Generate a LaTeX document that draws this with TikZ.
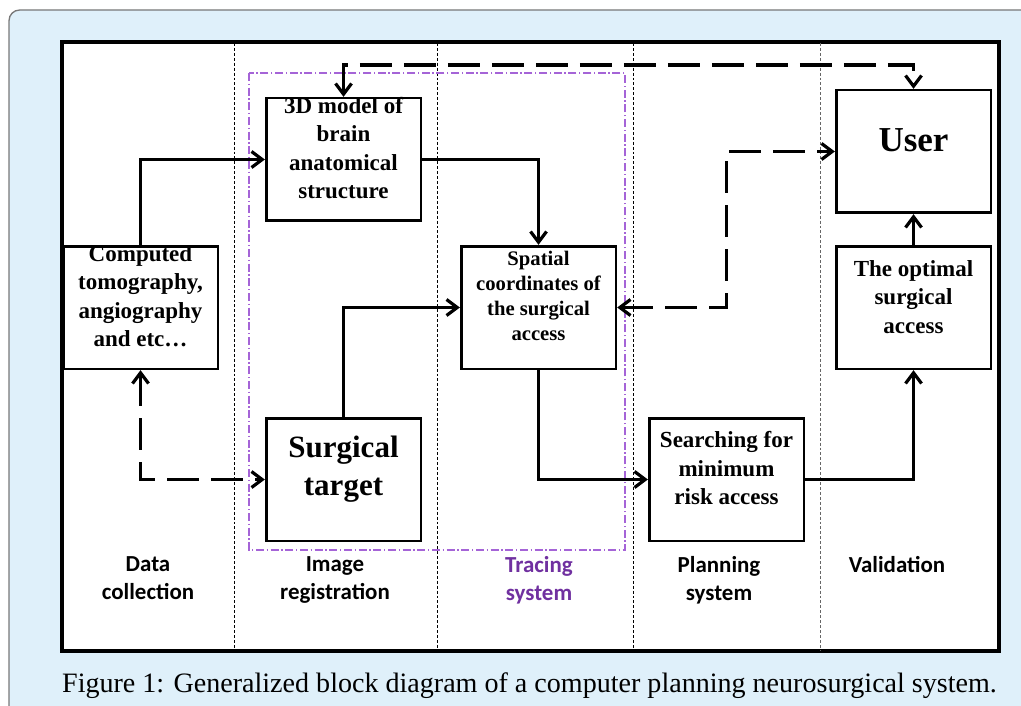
\documentclass[tikz,border=0pt]{standalone}
\usepackage{fontspec}
\usepackage{graphicx}
\setmainfont{Liberation Serif}
\newfontfamily\calibri{Carlito}
\usetikzlibrary{arrows.meta}
\definecolor{panelblue}{RGB}{223,240,250}
\definecolor{panelgray}{RGB}{120,120,120}
\definecolor{tracepurple}{RGB}{112,48,160}
\definecolor{tracebox}{RGB}{165,100,215}
\begin{document}
\begin{tikzpicture}[x=0.75pt,y=-0.75pt,
 box/.style={draw, line width=2pt, fill=white, minimum width=116pt, minimum height=92pt, inner sep=0pt},
 boxtext/.style={align=center, inner sep=0pt, font=\fontsize{17.25}{21.4}\selectfont\bfseries},
 conn/.style={line width=2.4pt, ->},
 dconn/.style={line width=2.4pt, <->, dash pattern=on 24pt off 9pt},
 sepline/.style={line width=0.7pt, dash pattern=on 2.2pt off 1.5pt},
 phase/.style={align=center, inner sep=0pt, anchor=north, font=\calibri\fontsize{17.2}{21}\selectfont\bfseries},
 >={Straight Barb[length=8pt,width=12pt]}
]
\useasboundingbox (0,0) rectangle (1021,706);
\clip (0,0) rectangle (1021,706);
\fill[white] (0,0) rectangle (1021,706);
% panel
\draw[fill=panelblue, draw=panelgray, line width=1pt, rounded corners=8pt] (9,10) rectangle (1060,740);
% frame
\draw[fill=white, line width=2.3pt] (62,42) rectangle (999,651);
% separators
\draw[sepline] (234,43) -- (234,650);
\draw[sepline] (437,43) -- (437,650);
\draw[sepline] (633,43) -- (633,650);
\draw[sepline, draw=black!60] (820,43) -- (820,650);
% tracing system region
\draw[tracebox, line width=0.9pt, dash pattern=on 6pt off 2pt on 1pt off 2pt] (249,73) rectangle (625,550);

% boxes
\node[box] (m3d) at (343.5,159.5) {};
\node[box] (ct) at (140.5,307.5) {};
\node[box] (spatial) at (538.5,307.5) {};
\node[box] (target) at (343.5,479.5) {};
\node[box] (search) at (726.5,479.5) {};
\node[box] (user) at (913.5,151.5) {};
\node[box] (optimal) at (913.5,307.5) {};

% box texts
\node[boxtext] (m3dtext) at ([yshift=8.5pt]m3d.center) {3D model of\\brain\\anatomical\\structure};
\node[boxtext] (cttext) at ([yshift=8.5pt]ct.center) {Computed\\tomography,\\angiography\\and etc\ldots};
\node[boxtext, font=\fontsize{15.5}{18.75}\selectfont\bfseries] (spatialtext) at ([yshift=8.5pt]spatial.center) {Spatial\\coordinates of\\the surgical\\access};
\node[boxtext, font=\fontsize{23.25}{28.5}\selectfont\bfseries] (targettext) at ([yshift=8pt]target.center) {Surgical\\target};
\node[boxtext] (searchtext) at ([yshift=8.5pt]search.center) {Searching for\\minimum\\risk access};
\node[boxtext, font=\fontsize{26.25}{30}\selectfont\bfseries] (usertext) at ([yshift=8.5pt]user.center) {User};
\node[boxtext] (optimaltext) at ([yshift=8pt]optimal.center) {The optimal\\surgical\\access};

% connectors
\draw[conn] (ct.north) |- (m3d.west);
\draw[conn] (m3d.east) -| (spatial.north);
\draw[conn] (target.north) |- (spatial.west);
\draw[conn] (spatial.south) |- (search.west);
\draw[conn] (search.east) -| (optimal.south);
\draw[conn] (optimal.north) -- (user.south);

\coordinate (topline) at (600,65);
\coordinate (jog) at (726.5,300);
\draw[dconn] (m3d.north) |- (topline) -| (user.north);
\draw[dconn] (spatial.east) -| (jog |- user.west) -- (user.west);
\draw[dconn] (ct.south) |- (target.west);

% phase labels
\node[phase] (l1) at (148,556) {Data\\collection};
\node[phase] (l2) at (335,556) {Image\\registration};
\node[phase, text=tracepurple] (l3) at (539,556) {Tracing\\system};
\node[phase] (l4) at (719,556) {Planning\\system};
\node[phase] (l5) at (897,556) {Validation};

% caption
\node[inner sep=0pt] (caption) at (529.5,686) {\resizebox{701pt}{!}{\fontsize{20}{24}\selectfont Figure 1: Generalized block diagram of a computer planning neurosurgical system.}};
\end{tikzpicture}
\end{document}
